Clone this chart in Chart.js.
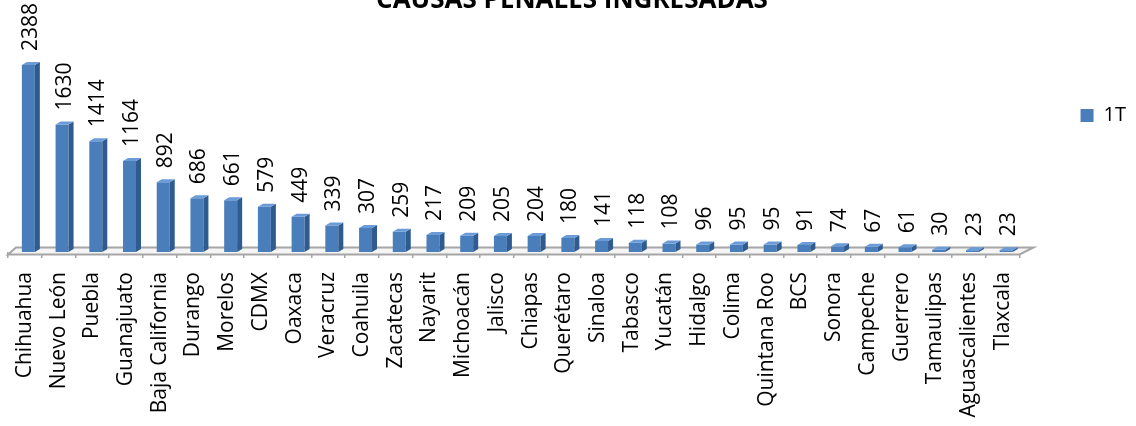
<!DOCTYPE html>
<html>
<head>
<meta charset="utf-8">
<title>Causas penales ingresadas</title>
<script src="https://cdn.jsdelivr.net/npm/chart.js@4/dist/chart.umd.min.js"></script>
<style>
  html, body { margin: 0; padding: 0; background: #fff; }
  #wrap { width: 1136px; height: 426px; position: relative; }
</style>
</head>
<body>
<div id="wrap"><canvas id="chart"></canvas></div>
<script>
"use strict";

const states = ["Chihuahua", "Nuevo León", "Puebla", "Guanajuato", "Baja California", "Durango",
  "Morelos", "CDMX", "Oaxaca", "Veracruz", "Coahuila", "Zacatecas", "Nayarit", "Michoacán",
  "Jalisco", "Chiapas", "Querétaro", "Sinaloa", "Tabasco", "Yucatán", "Hidalgo", "Colima",
  "Quintana Roo", "BCS", "Sonora", "Campeche", "Guerrero", "Tamaulipas", "Aguascalientes", "Tlaxcala"];
const casesQ1 = [2388, 1630, 1414, 1164, 892, 686, 661, 579, 449, 339, 307, 259, 217, 209,
  205, 204, 180, 141, 118, 108, 96, 95, 95, 91, 74, 67, 61, 30, 23, 23];
const seriesName = "1T";
const chartTitle = "CAUSAS PENALES INGRESADAS";

const FONT = "'Open Sans', 'DejaVu Sans', sans-serif";
const SHIFT = 3.5;   // bars sit in the middle of the floor depth
const DX = 5, DY = 3; // bar depth

// floor, 3D sides/tops of the bars, value labels
const bar3d = {
  id: "bar3d",
  beforeDatasetsDraw(chart) {
    const { ctx, chartArea: a } = chart;
    const b = a.bottom;
    ctx.save();
    ctx.beginPath();
    ctx.moveTo(a.left, b + 2.5);
    ctx.lineTo(a.right, b + 2.5);
    ctx.lineTo(a.right + 14, b - 4.5);
    ctx.lineTo(a.left + 8, b - 4.5);
    ctx.closePath();
    ctx.fillStyle = "#f5f5f5";
    ctx.fill();
    ctx.strokeStyle = "#a6a6a6";
    ctx.lineWidth = 2;
    ctx.stroke();
    ctx.restore();
    ctx.save();
    ctx.translate(SHIFT, 0);
  },
  afterDatasetsDraw(chart) {
    const ctx = chart.ctx;
    chart.getDatasetMeta(0).data.forEach(bar => {
      const left = bar.x - bar.width / 2;
      const right = bar.x + bar.width / 2;
      const top = bar.y, bottom = bar.base;
      ctx.beginPath();
      ctx.moveTo(right, top);
      ctx.lineTo(right + DX, top - DY);
      ctx.lineTo(right + DX, bottom - DY);
      ctx.lineTo(right, bottom);
      ctx.closePath();
      ctx.fillStyle = "#2f5b8e";
      ctx.fill();
      ctx.beginPath();
      ctx.moveTo(left, top);
      ctx.lineTo(left + DX, top - DY);
      ctx.lineTo(right + DX, top - DY);
      ctx.lineTo(right, top);
      ctx.closePath();
      ctx.fillStyle = "#6b9bd8";
      ctx.fill();
    });
    ctx.restore();

    ctx.save();
    ctx.font = "21px " + FONT;
    ctx.fillStyle = "#000";
    ctx.textAlign = "left";
    ctx.textBaseline = "middle";
    chart.getDatasetMeta(0).data.forEach((bar, i) => {
      ctx.save();
      ctx.translate(bar.x + SHIFT + 2.5, bar.y - 14);
      ctx.rotate(-Math.PI / 2);
      ctx.fillText(String(casesQ1[i]), 0, 0);
      ctx.restore();
    });
    ctx.restore();
  }
};

// front face: slightly lighter on the left like the original shading
function frontColor(context) {
  const el = context.element;
  if (!el || el.width == null) return "#4a7ebb";
  const x0 = el.x - el.width / 2, x1 = el.x + el.width / 2;
  const g = context.chart.ctx.createLinearGradient(x0, 0, x1, 0);
  g.addColorStop(0, "#5a8dcc");
  g.addColorStop(0.5, "#4a7ebb");
  g.addColorStop(1, "#3f70ab");
  return g;
}

new Chart(document.getElementById("chart"), {
  type: "bar",
  data: {
    labels: states,
    datasets: [{
      label: seriesName,
      data: casesQ1,
      backgroundColor: frontColor,
      borderWidth: 0,
      barPercentage: 0.385,
      categoryPercentage: 1
    }]
  },
  options: {
    responsive: true,
    maintainAspectRatio: false,
    animation: false,
    layout: { padding: { left: 8, right: 0, top: 0, bottom: 0 } },
    plugins: {
      title: {
        display: true,
        text: chartTitle,
        color: "#000",
        font: { family: FONT, size: 26, weight: "bold" },
        padding: { top: -15, bottom: 1 }
      },
      legend: {
        position: "right",
        align: "start",
        fullSize: false,
        title: { display: true, text: "", font: { size: 12 }, padding: { top: 0, bottom: 72 } },
        labels: {
          boxWidth: 13,
          boxHeight: 13,
          padding: 2,
          color: "#000",
          font: { family: FONT, size: 20 },
          generateLabels(chart) {
            const items = Chart.defaults.plugins.legend.labels.generateLabels(chart);
            items.forEach(it => { it.fillStyle = "#4a7ebb"; it.strokeStyle = "#4a7ebb"; });
            return items;
          }
        }
      },
      tooltip: { enabled: false }
    },
    scales: {
      x: {
        grid: {
          display: true,
          drawOnChartArea: false,
          drawTicks: true,
          tickLength: 6,
          color: "#a6a6a6",
          lineWidth: 1.5
        },
        border: { display: false },
        ticks: {
          autoSkip: false,
          minRotation: 90,
          maxRotation: 90,
          padding: 14,
          color: "#000",
          font: { family: FONT, size: 21 }
        },
        afterFit(scale) { scale.height = 174; }
      },
      y: {
        position: "right",
        min: 0,
        max: 3000,
        grid: { display: false },
        border: { display: false },
        ticks: { display: false },
        afterFit(scale) { scale.width = 59; }
      }
    }
  },
  plugins: [bar3d]
});
</script>
</body>
</html>
